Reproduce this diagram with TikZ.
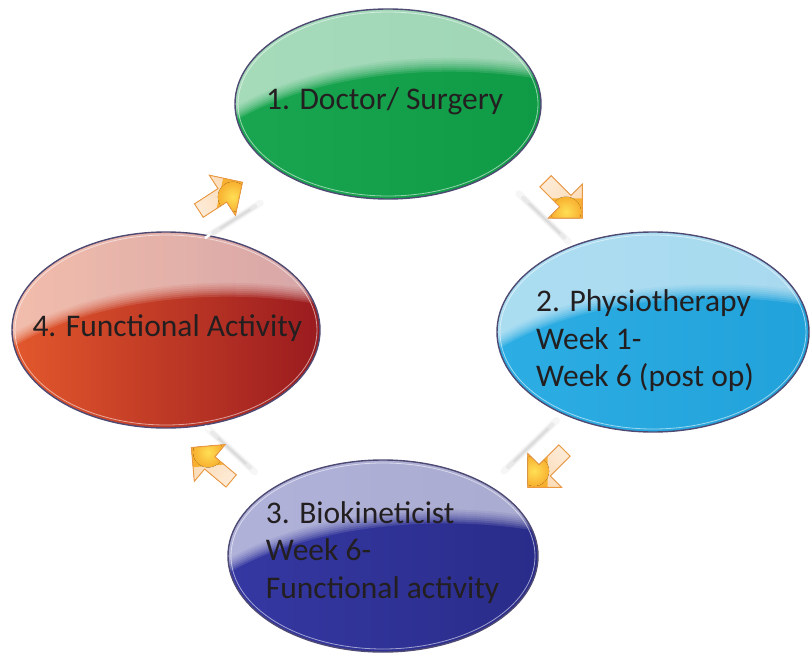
\documentclass[tikz,border=0pt]{standalone}
\usepackage{fontspec}
\setmainfont{Carlito}
\usetikzlibrary{shapes.geometric,calc}

\definecolor{txt}{HTML}{231F20}
\definecolor{rim}{HTML}{4E4A73}
\definecolor{gL}{HTML}{1AA650}
\definecolor{gR}{HTML}{0F9A46}
\definecolor{bL}{HTML}{2CADE3}
\definecolor{bR}{HTML}{22A2DA}
\definecolor{pL}{HTML}{3538A2}
\definecolor{pR}{HTML}{2A2C8A}
\definecolor{rL}{HTML}{E3582C}
\definecolor{rR}{HTML}{9A1B1F}
\definecolor{arrPeachA}{HTML}{FDEBD7}
\definecolor{arrPeachB}{HTML}{FBD6AC}
\definecolor{arrGold}{HTML}{F8B030}
\definecolor{arrYellow}{HTML}{FFDF55}
\definecolor{arrEdge}{HTML}{EC9840}

% glossy ellipse body: saturated base, white glass highlight with a soft lower edge
\newcommand\glossyellipse[6]{% cx, cy, rx, ry, left colour, right colour
  \begin{scope}
    \clip (#1,#2) ellipse [x radius=#3, y radius=#4];
    \fill[left color=#5, right color=#6] ({#1-#3},{#2-#4}) rectangle ({#1+#3},{#2+#4});
    \foreach \s in {14,12,10,8,6,4,2,0}{
      \fill[white, fill opacity=0.114, even odd rule]
        ({#1-#3-2},{#2-#4-2}) rectangle ({#1+#3+2},{#2+#4+2})
        ({#1+0.4*#3},{#2+1.06*#4-\s}) ellipse [x radius={1.8*#3}, y radius={1.4*#4}];
    }
  \end{scope}
  \draw[white, opacity=.55, line width=.8pt] (#1,#2) ellipse [x radius={#3-3}, y radius={#4-3}];
}

% block arrow, pointing along local +x
\newcommand\arrowpath{(28,0) -- (4,24) -- (4,8) -- (-24,8) -- (-24,-8) -- (4,-8) -- (4,-24) -- cycle}
\newcommand\cyclearrow[4]{% name, x, y, angle
  \coordinate (#1) at (#2,#3);
  \begin{scope}[transform canvas={shift={(#1)},rotate=#4}]
    \fill[left color=arrPeachA, right color=arrPeachB] \arrowpath;
    \begin{scope}
      \clip \arrowpath;
      \fill[arrGold] (30,-30) -- (30,30) -- (-30,30) -- cycle;
      \fill[inner color=arrYellow, outer color=arrGold] (12,7) circle (15);
    \end{scope}
    \draw[arrEdge, line width=.9pt, line join=miter] \arrowpath;
  \end{scope}}

\tikzset{
  haze/.style={draw=black, line cap=round},
  ring/.style={ellipse, draw=rim, line width=1.4pt, inner sep=0pt},
  lbl/.style={font=\fontsize{31.5}{37.5}\selectfont, text=txt, inner sep=0pt, align=left, anchor=base west}
}
% faint reflection streak between two named points: soft layered grey
\newcommand\streak[3]{% name, start, end
  \coordinate (#1s) at #2;
  \coordinate (#1e) at #3;
  \draw[haze, opacity=.035, line width=7pt, shorten <=4pt, shorten >=2pt] (#1s) -- (#1e);
  \draw[haze, opacity=.05, line width=4.5pt, shorten <=10pt, shorten >=8pt] (#1s) -- (#1e);
  \draw[haze, opacity=.06, line width=2pt, shorten <=18pt, shorten >=14pt] (#1s) -- (#1e);
}

\begin{document}
\begin{tikzpicture}[x=1pt, y=-1pt]
  \useasboundingbox[fill=white] (0,0) rectangle (811,655);

  % bodies
  \glossyellipse{388}{104}{153}{95}{gL}{gR}
  \glossyellipse{653}{332}{156}{100}{bL}{bR}
  \glossyellipse{383}{556}{155}{96}{pL}{pR}
  \glossyellipse{166}{330}{154}{98}{rL}{rR}

  % outlines
  \node[ring, minimum width=306pt, minimum height=190pt] (e1) at (388,104) {};
  \node[ring, minimum width=312pt, minimum height=200pt] (e2) at (653,332) {};
  \node[ring, minimum width=310pt, minimum height=192pt] (e3) at (383,556) {};
  \node[ring, minimum width=308pt, minimum height=196pt] (e4) at (166,330) {};

  % reflections
  \streak{r1}{(205,238)}{(262,202)}
  \streak{r2}{(516,191)}{(570,243)}
  \streak{r3}{(501,474)}{(558,419)}
  \streak{r4}{(205,426)}{(256,473)}
  % small breaks where two of them cross the red outline
  \draw[white, line width=2.5pt] (r1s) -- ($(r1s)!6pt!(r1e)$);
  \draw[white, line width=2.5pt] (r4s) -- ($(r4s)!6pt!(r4e)$);

  % arrows of the cycle
  \cyclearrow{a41}{219}{197.5}{33}
  \cyclearrow{a12}{562.5}{198.3}{-45}
  \cyclearrow{a23}{547.5}{467.5}{-135}
  \cyclearrow{a34}{212.8}{465.5}{140}

  % labels (multi-line labels are placed by their last baseline)
  \node[lbl] (t1) at (266,110) {1. Doctor/ Surgery};
  \node[lbl] (t2) at (536,386.7) {2. Physiotherapy\\Week 1-\\Week 6 (post op)};
  \node[lbl] (t3) at (265.7,598.3) {3. Biokineticist\\Week 6-\\Functional activity};
  \node[lbl] (t4) at (32.3,336) {4. Functional Activity};
\end{tikzpicture}
\end{document}
